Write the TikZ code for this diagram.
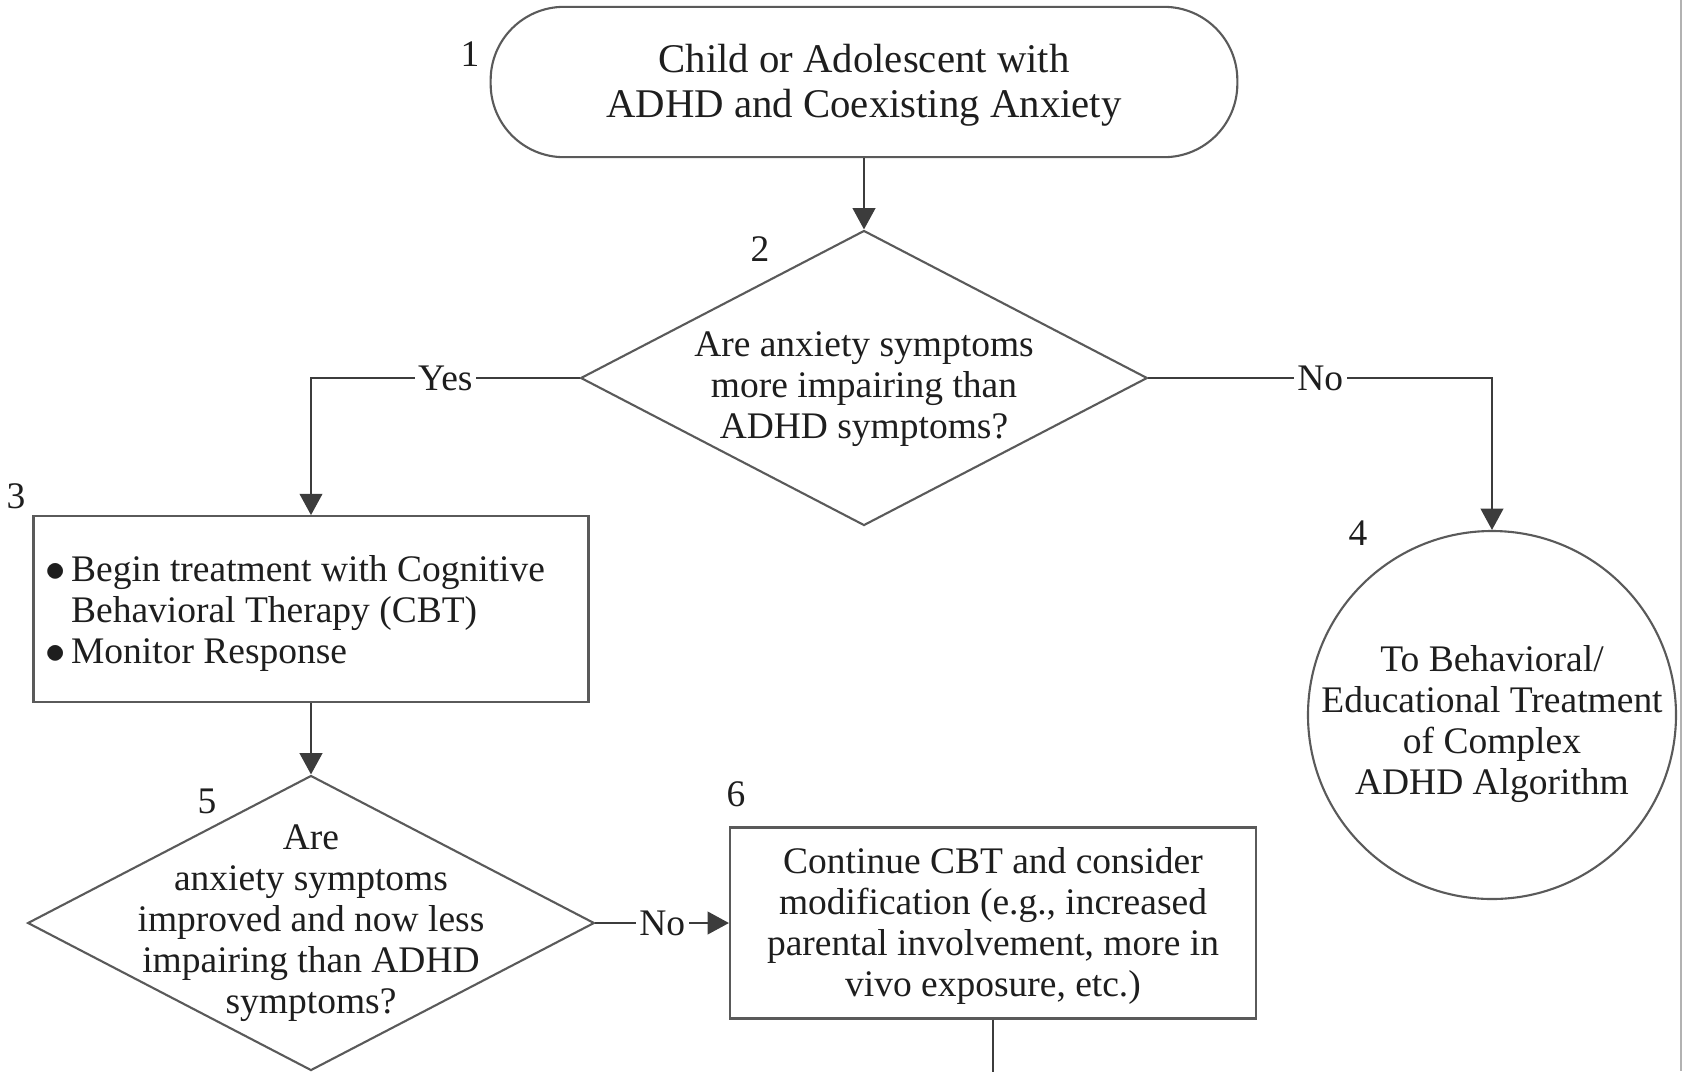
\documentclass[tikz,border=0pt]{standalone}
\usepackage{fontspec}
\setmainfont{Liberation Serif}
\usepackage{tikz}
\usetikzlibrary{shapes.geometric,arrows.meta}

\definecolor{shapegray}{HTML}{5A5A5A}
\definecolor{linegray}{HTML}{3C3C3C}
\definecolor{inkgray}{HTML}{1E1E1E}

\tikzset{
  every node/.style={text=inkgray, font=\fontsize{16}{17.5}\selectfont},
  term/.style={draw=shapegray, line width=0.9pt, rounded corners=1.1cm, align=center,
    minimum width=11.2cm, minimum height=2.255cm, font=\fontsize{17.4}{19.2}\selectfont},
  decision/.style={draw=shapegray, line width=0.9pt, diamond, inner sep=0pt,
    minimum width=8.5cm, minimum height=4.425cm},
  ending/.style={draw=shapegray, line width=0.9pt, circle, inner sep=0pt, minimum size=5.52cm},
  box/.style={draw=shapegray, line width=0.9pt, rectangle, align=center},
  txt/.style={align=center, inner sep=0pt},
  conn/.style={draw=linegray, line width=0.9pt},
  arr/.style={conn, -{Triangle[length=0.32cm,width=0.34cm]}},
  lbl/.style={fill=white, inner sep=1.5pt}
}
\newcommand{\bigdot}{{\fontsize{18}{17.5}\selectfont$\bullet$}}

\begin{document}
\begin{tikzpicture}[x=0.015cm, y=-0.015cm]
      \useasboundingbox (0,0) rectangle (1683,1071);
      \node[term] (1) at (864,82)
        {\raisebox{-1.8pt}[\height][\depth]{\begin{tabular}{@{}c@{}}
          Child or Adolescent with\\ADHD and Coexisting Anxiety\end{tabular}}};
      \node[decision] (2) at (864,378) {};
      \node[txt] (2t) at (864,389) {Are anxiety symptoms\\more impairing than\\ADHD symptoms?};
      \node[box, minimum width=8.325cm, minimum height=2.785cm] (3) at (311,609)
        {\raisebox{-2.3pt}[\height][\depth]{\begin{tabular}{@{}l@{\hspace{2.3pt}}l@{\hspace{13.5pt}}}
          \bigdot & Begin treatment with Cognitive\\
                  & Behavioral Therapy (CBT)\\
          \bigdot & Monitor Response
         \end{tabular}}};
      \node[ending] (4) at (1492,715) {};
      \node[txt] (4t) at (1492,724) {To Behavioral/\\Educational Treatment\\of Complex\\ADHD Algorithm};
      \node[decision] (5) at (311,923) {};
      \node[txt] (5t) at (311,923) {Are\\anxiety symptoms\\improved and now less\\impairing than ADHD\\symptoms?};
      \node[box, minimum width=7.89cm, minimum height=2.865cm] (6) at (993,923)
        {\raisebox{-1.8pt}[\height][\depth]{\begin{tabular}{@{}c@{}}
          Continue CBT and consider\\modification (e.g., increased\\parental involvement, more in\\vivo exposure, etc.)\end{tabular}}};
      \coordinate (cont) at (993,1090);
      \node (l1) at (470,54) {1};
      \node (l2) at (760,249) {2};
      \node (l3) at (16,496) {3};
      \node (l4) at (1358,533) {4};
      \node (l5) at (207,801) {5};
      \node (l6) at (736,794) {6};
      \draw[arr] (1) to (2);
      \draw[arr] (2.west) -| node[lbl, pos=0.25]{Yes} (3.north);
      \draw[arr] (2.east) -| node[lbl, pos=0.25]{No} (4.north);
      \draw[arr] (3) to (5);
      \draw[arr] (5.east) to node[lbl]{No} (6.west);
      \draw[conn] (6) to (cont);
      \draw[gray!60, line width=1pt] (1681,0) -- (1681,1071);
    \end{tikzpicture}
\end{document}
